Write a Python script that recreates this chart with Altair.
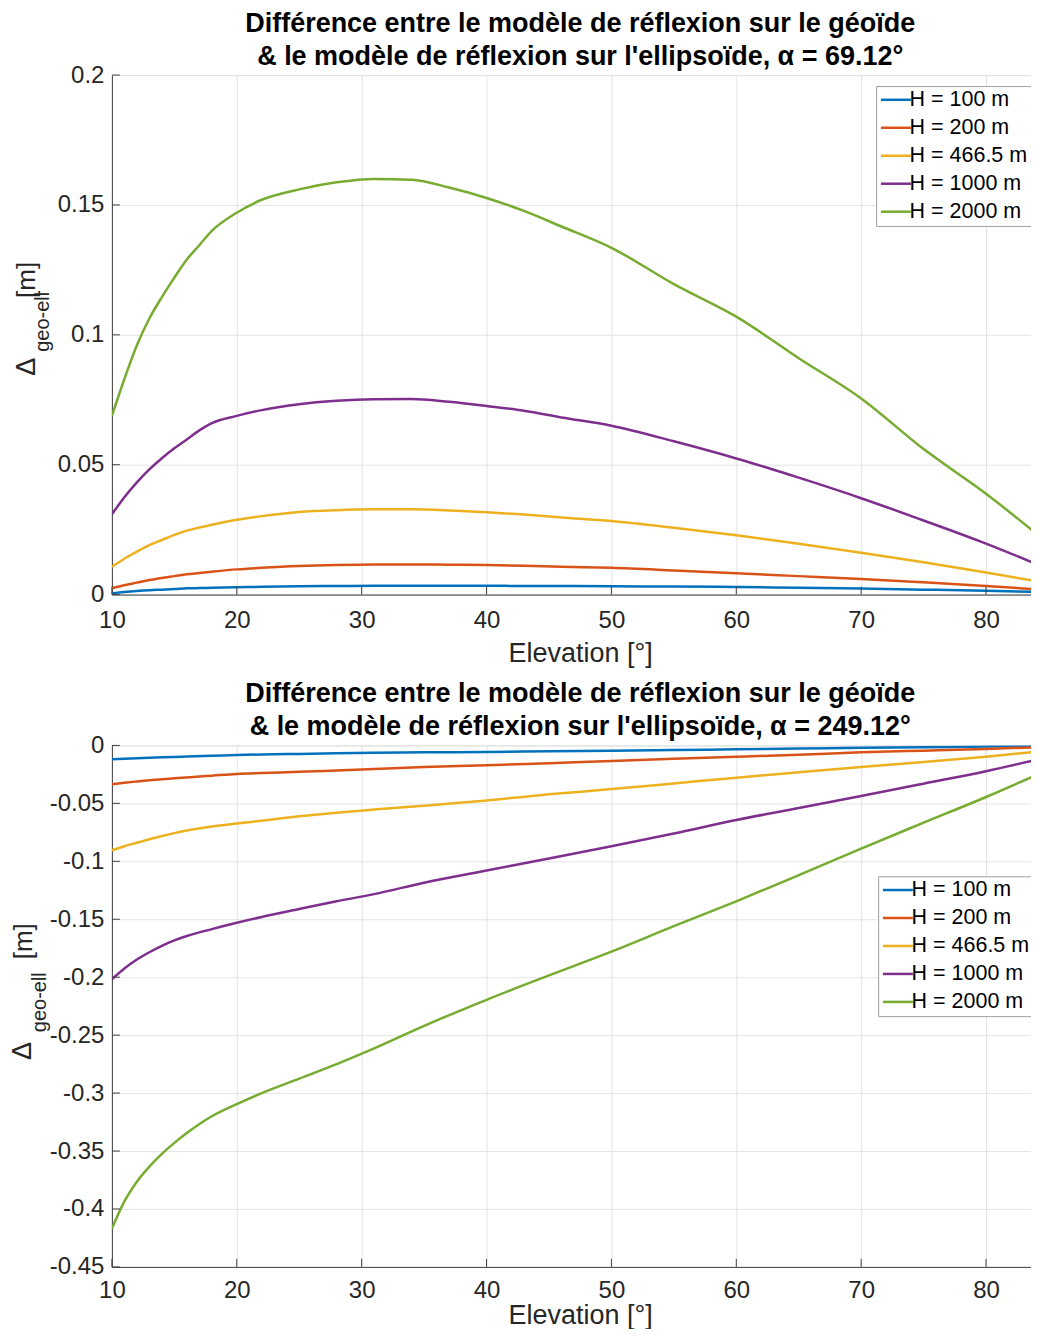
import altair as alt
import pandas as pd

FONT = "Liberation Sans"
TXT = "#262626"
AX = "#404040"
GRID = "#e4e4e4"

series_names = ["H = 100 m", "H = 200 m", "H = 466.5 m", "H = 1000 m", "H = 2000 m"]
series_colors = ["#0072BD", "#D95319", "#EDB120", "#7E2F8E", "#77AC30"]

x_ticks = [10, 20, 30, 40, 50, 60, 70, 80]
X_MIN, X_MAX = 10, 85

# ---------------- top panel (alpha = 69.12 deg) ----------------
elev_top = [10, 11, 12, 13, 14, 15, 16, 17, 18, 20, 22, 25, 28, 31, 34, 37, 40, 43, 46, 50, 55, 60, 65, 70, 75, 80, 84.2]
top_h100 = [0.0005, 0.0010, 0.0014, 0.0017, 0.0019, 0.0021, 0.0024, 0.0025, 0.0026, 0.0028, 0.0030, 0.0032, 0.0033, 0.0034,
            0.0034, 0.0034, 0.0034, 0.0033, 0.0033, 0.0032, 0.0031, 0.0029, 0.0026, 0.0023, 0.0019, 0.0015, 0.0010]
top_h200 = [0.0024, 0.0036, 0.0046, 0.0056, 0.0064, 0.0071, 0.0078, 0.0083, 0.0088, 0.0097, 0.0103, 0.0110, 0.0114, 0.0116,
            0.0116, 0.0115, 0.0114, 0.0111, 0.0107, 0.0103, 0.0093, 0.0082, 0.0071, 0.0060, 0.0047, 0.0033, 0.0020]
top_h466 = [0.0107, 0.0138, 0.0165, 0.0190, 0.0210, 0.0230, 0.0246, 0.0258, 0.0269, 0.0288, 0.0302, 0.0318, 0.0325, 0.0328,
            0.0328, 0.0324, 0.0317, 0.0308, 0.0297, 0.0283, 0.0257, 0.0228, 0.0196, 0.0161, 0.0124, 0.0085, 0.0050]
top_h1000 = [0.0309, 0.0375, 0.0432, 0.0482, 0.0525, 0.0563, 0.0597, 0.0632, 0.0660, 0.0688, 0.0710, 0.0733, 0.0746, 0.0752,
             0.0753, 0.0742, 0.0726, 0.0708, 0.0682, 0.0650, 0.0590, 0.0524, 0.0450, 0.0371, 0.0285, 0.0196, 0.0114]
top_h2000 = [0.0688, 0.0830, 0.0960, 0.1063, 0.1145, 0.1220, 0.1290, 0.1345, 0.1400, 0.1470, 0.1520, 0.1560, 0.1587, 0.1600,
             0.1597, 0.1567, 0.1527, 0.1477, 0.1417, 0.1335, 0.1195, 0.1070, 0.0910, 0.0755, 0.0560, 0.0388, 0.0228]
top_y_ticks = [0, 0.05, 0.1, 0.15, 0.2]
top_title = ["Différence entre le modèle de réflexion sur le géoïde",
             "& le modèle de réflexion sur l'ellipsoïde, α = 69.12°"]

# ---------------- bottom panel (alpha = 249.12 deg) ----------------
elev_bot = [10, 11, 12, 13, 14, 15, 16, 18, 20, 22, 25, 28, 31, 35, 40, 45, 50, 55, 60, 65, 70, 75, 80, 84.2]
bot_h100 = [-0.0119, -0.0115, -0.0111, -0.0107, -0.0103, -0.0099, -0.0096, -0.0090, -0.0083, -0.0078, -0.0073, -0.0068,
            -0.0064, -0.0060, -0.0056, -0.0051, -0.0045, -0.0040, -0.0033, -0.0027, -0.0021, -0.0016, -0.0010, -0.0006]
bot_h200 = [-0.0335, -0.0322, -0.0311, -0.0301, -0.0292, -0.0284, -0.0276, -0.0261, -0.0246, -0.0238, -0.0228, -0.0216,
            -0.0204, -0.0187, -0.0172, -0.0153, -0.0134, -0.0116, -0.0098, -0.0080, -0.0060, -0.0045, -0.0030, -0.0015]
bot_h466 = [-0.0905, -0.0870, -0.0840, -0.0810, -0.0782, -0.0757, -0.0735, -0.0700, -0.0674, -0.0650, -0.0612, -0.0580,
            -0.0553, -0.0520, -0.0475, -0.0422, -0.0377, -0.0328, -0.0278, -0.0232, -0.0187, -0.0143, -0.0098, -0.0053]
bot_h1000 = [-0.2018, -0.1925, -0.1848, -0.1785, -0.1730, -0.1683, -0.1645, -0.1585, -0.1530, -0.1480, -0.1412, -0.1345,
             -0.1283, -0.1185, -0.1080, -0.0975, -0.0870, -0.0760, -0.0644, -0.0540, -0.0436, -0.0330, -0.0223, -0.0119]
bot_h2000 = [-0.4170, -0.3935, -0.3765, -0.3635, -0.3525, -0.3430, -0.3345, -0.3200, -0.3095, -0.3000, -0.2875, -0.2750,
             -0.2615, -0.2420, -0.2195, -0.1985, -0.1780, -0.1560, -0.1345, -0.1120, -0.0890, -0.0667, -0.0445, -0.0246]
bot_y_ticks = [-0.45, -0.4, -0.35, -0.3, -0.25, -0.2, -0.15, -0.1, -0.05, 0]
bot_title = ["Différence entre le modèle de réflexion sur le géoïde",
             "& le modèle de réflexion sur l'ellipsoïde, α = 249.12°"]


def long_df(elev, series_lists):
    rows = []
    for name, vals in zip(series_names, series_lists):
        for e, v in zip(elev, vals):
            rows.append({"elev": e, "delta": v, "serie": name})
    return pd.DataFrame(rows)


def panel(df, ydom, yvals, title_lines, height, legend_x, legend_y, ylab_pos, lab_pad, tit_pad):
    W = (X_MAX - X_MIN) * 12.5
    xscale = alt.Scale(domain=[X_MIN, X_MAX], nice=False, zero=False)
    yscale = alt.Scale(domain=ydom, nice=False, zero=False)
    x = alt.X("elev:Q", scale=xscale,
              axis=alt.Axis(values=x_ticks, title="Elevation [°]", titleFont=FONT, titleFontSize=27,
                            titleFontWeight="normal", titleColor=TXT, titlePadding=tit_pad,
                            labelFont=FONT, labelFontSize=24, labelColor=TXT, labelPadding=lab_pad,
                            labelFlush=False, labelOverlap=False, ticks=False,
                            domainColor=AX, domainWidth=1, gridColor=GRID, gridWidth=1))
    y = alt.Y("delta:Q", scale=yscale,
              axis=alt.Axis(values=yvals, title=None, labelExpr="datum.value + ''",
                            labelFont=FONT, labelFontSize=24, labelColor=TXT, labelPadding=8,
                            labelFlush=False, labelOverlap=False, ticks=False,
                            domainColor=AX, domainWidth=1, gridColor=GRID, gridWidth=1))
    color = alt.Color("serie:N", scale=alt.Scale(domain=series_names, range=series_colors),
                      legend=alt.Legend(orient="none", legendX=legend_x, legendY=legend_y, title=None,
                                        symbolType="M-2,0L2,0", symbolSize=225, symbolStrokeWidth=2.5,
                                        symbolOffset=6,
                                        labelFont=FONT, labelFontSize=21.5, labelColor="#000",
                                        labelOffset=3, rowPadding=5, padding=3,
                                        strokeColor="#a0a0a0", fillColor="white", cornerRadius=0))
    lines = alt.Chart(df).mark_line(strokeWidth=2.5, clip=True, interpolate="monotone").encode(
        x=x, y=y, color=color)

    ytk = alt.Chart(pd.DataFrame({"delta": yvals})).mark_rule(color=AX, strokeWidth=1).encode(
        y=alt.Y("delta:Q", scale=yscale), x=alt.value(0), x2=alt.value(8))
    xtk = alt.Chart(pd.DataFrame({"elev": x_ticks})).mark_rule(color=AX, strokeWidth=1).encode(
        x=alt.X("elev:Q", scale=xscale), y=alt.value(height), y2=alt.value(height - 8))

    (dx, dy), (sx, sy), (mx, my) = ylab_pos
    tdf = pd.DataFrame({"t": ["x"]})
    t_delta = alt.Chart(tdf).mark_text(angle=270, font=FONT, fontSize=27, color=TXT, align="center",
                                       baseline="middle").encode(x=alt.value(dx), y=alt.value(dy), text=alt.value("Δ"))
    t_sub = alt.Chart(tdf).mark_text(angle=270, font=FONT, fontSize=20, color=TXT, align="center",
                                     baseline="middle").encode(x=alt.value(sx), y=alt.value(sy), text=alt.value("geo-ell"))
    t_m = alt.Chart(tdf).mark_text(angle=270, font=FONT, fontSize=26, color=TXT, align="center",
                                   baseline="middle").encode(x=alt.value(mx), y=alt.value(my), text=alt.value("[m]"))

    return alt.layer(lines, ytk, xtk, t_delta, t_sub, t_m).properties(
        width=W, height=height,
        title=alt.TitleParams(text=title_lines, font=FONT, fontSize=27, fontWeight="bold", color="#000",
                              anchor="middle", frame="group", lineHeight=33, offset=-8))


top = panel(long_df(elev_top, [top_h100, top_h200, top_h466, top_h1000, top_h2000]),
            [0, 0.2], top_y_ticks, top_title, 520, 765, 11,
            ((-85, 292), (-69, 247), (-85, 205)), 13.5, 8.5)
bot = panel(long_df(elev_bot, [bot_h100, bot_h200, bot_h466, bot_h1000, bot_h2000]),
            [-0.45, 0], bot_y_ticks, bot_title, 522, 767, 131,
            ((-89, 306), (-72, 257), (-88, 196)), 12, 0)

chart = alt.vconcat(top, bot, spacing=12).resolve_legend(color="independent").resolve_scale(
    color="independent").properties(
    padding={"left": 0, "top": 0.5, "right": -18.5, "bottom": -1.8}).configure_view(
    strokeWidth=0).configure(background="white")

chart.save("out.html", embed_options={"renderer": "svg", "actions": False})
